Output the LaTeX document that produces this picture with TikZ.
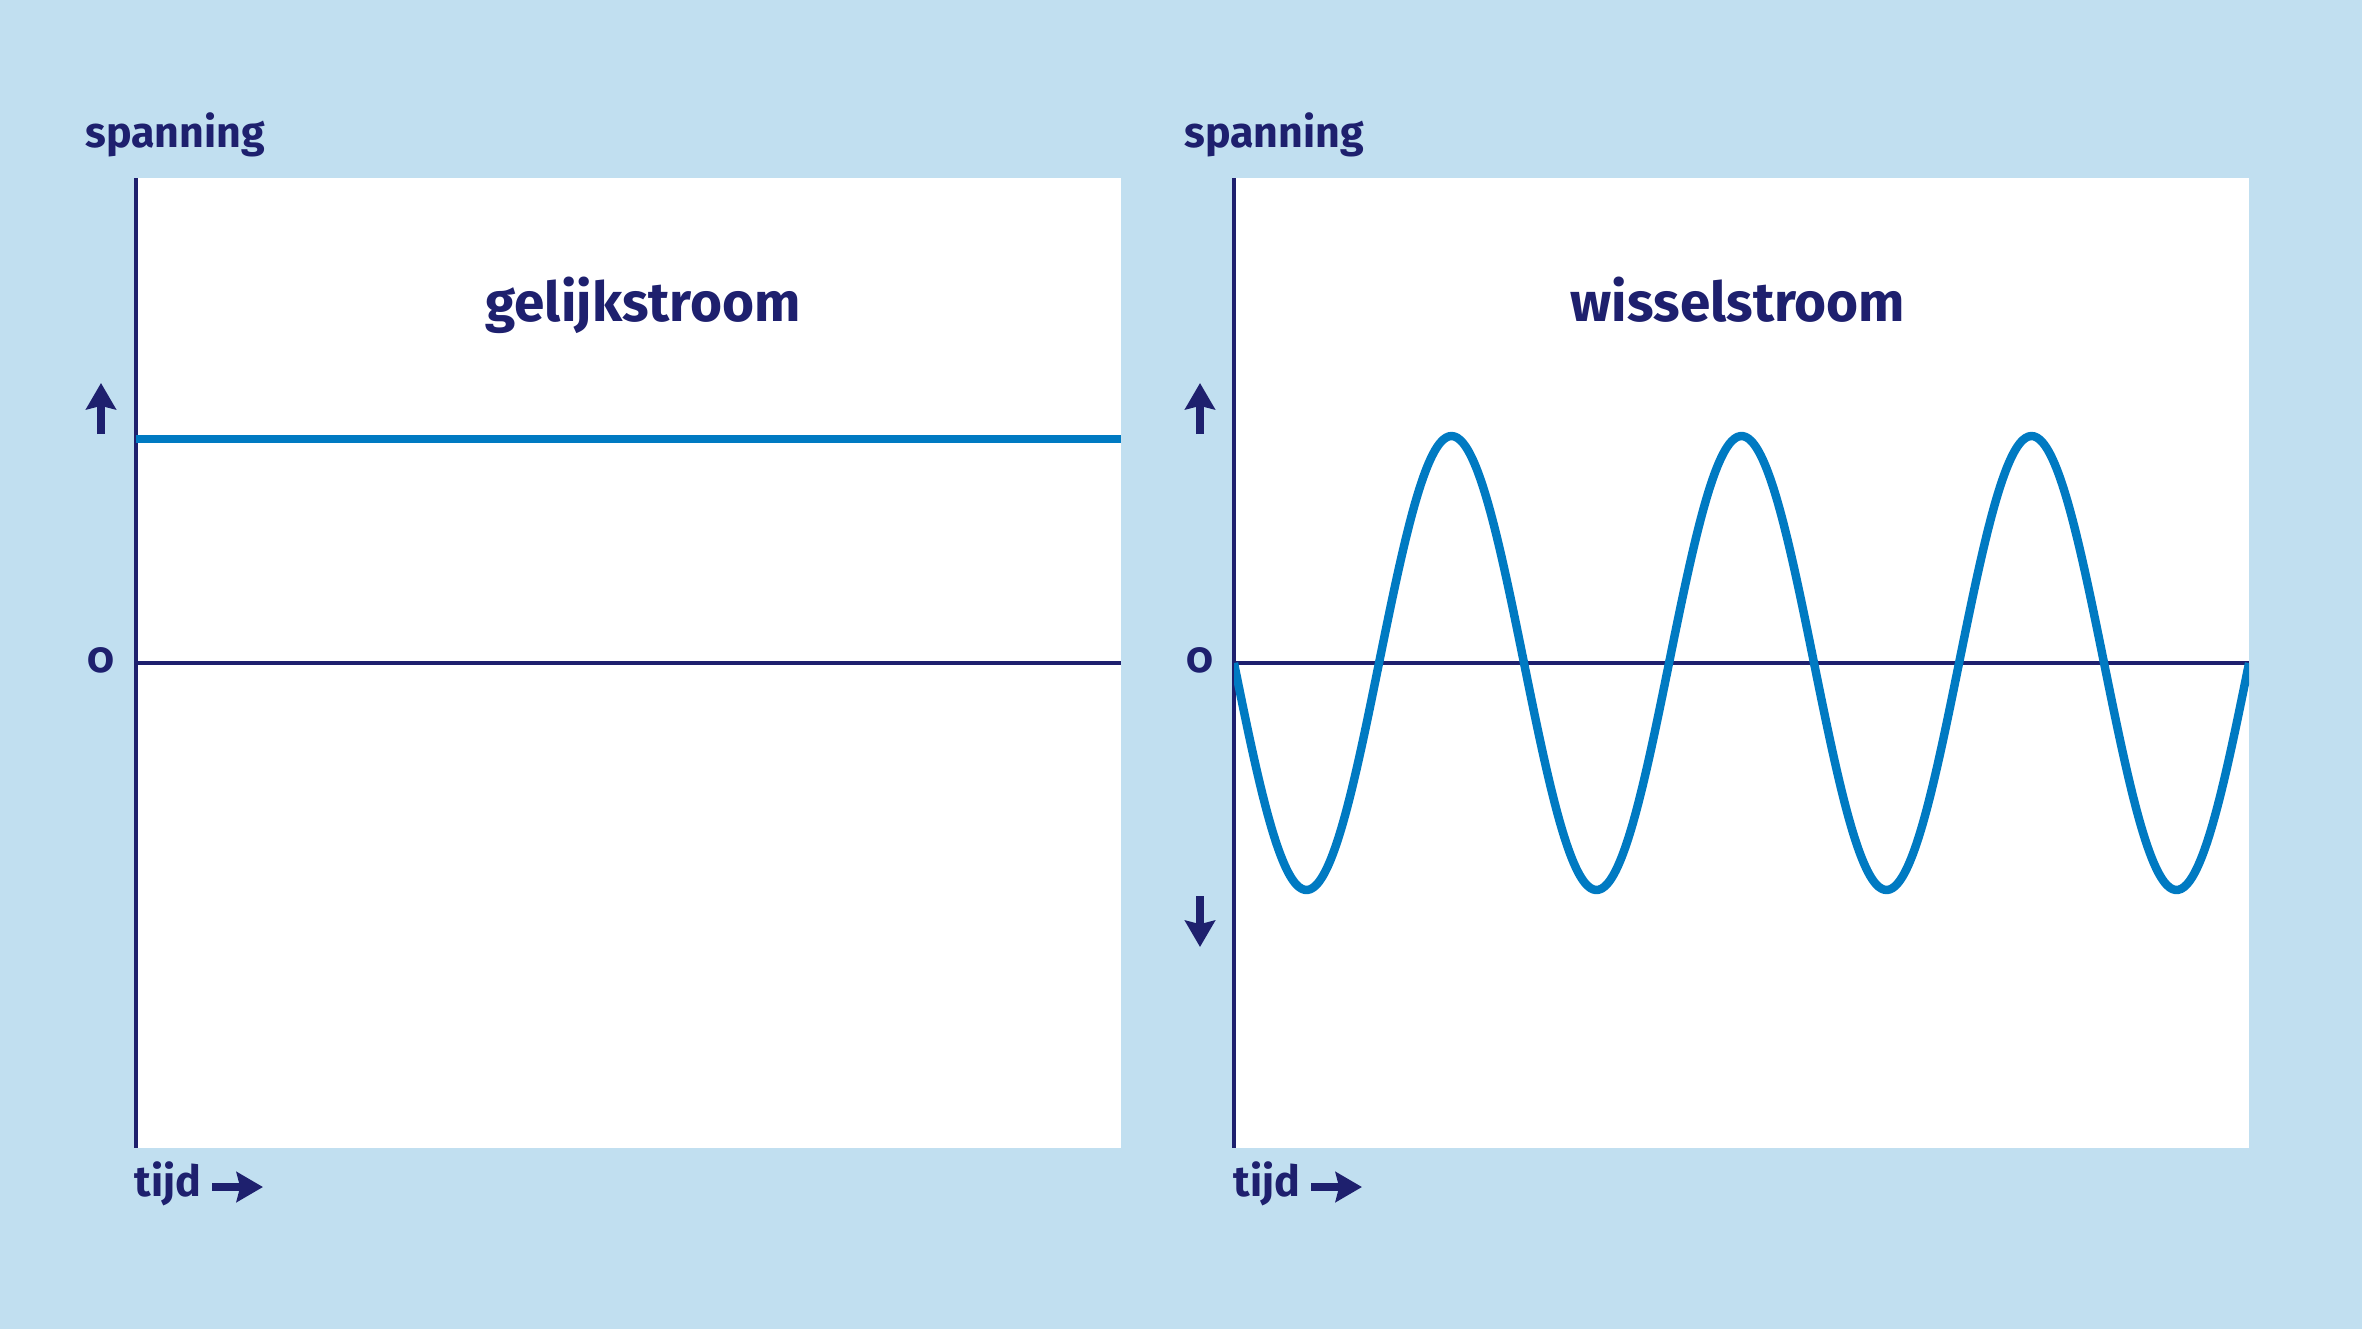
\documentclass[tikz,border=0pt]{standalone}
\usepackage{fontspec}
\setmainfont{Fira Sans}[Numbers=OldStyle]
\usepackage{tikz}
\usetikzlibrary{arrows.meta, positioning}
\definecolor{bgblue}{RGB}{193, 223, 240}
\definecolor{navy}{RGB}{30, 32, 110}
\definecolor{wave}{RGB}{0, 122, 194}

\begin{document}
\begin{tikzpicture}[x=0.01cm, y=-0.01cm,
  panel/.style={fill=white, draw=none},
  axis/.style={navy, line width=1.1pt},
  signal/.style={wave, line width=2.4pt, line join=round},
  lbl/.style={font=\fontsize{12.2}{14}\selectfont\bfseries, text=navy, inner sep=0pt, anchor=base},
  title/.style={font=\fontsize{15.6}{18}\selectfont\bfseries, text=navy, inner sep=0pt, anchor=base},
  glyph/.style={-{Stealth[length=7.5pt, width=8.5pt, inset=1pt]}, navy, line width=2.5pt}
]
  % background and margins
  \fill[bgblue] (0, 0) rectangle (2362, 1329);
  \useasboundingbox (0, 0) rectangle (2362, 1329);

  % gelijkstroom
  \fill[panel] (136, 178) rectangle (1121, 1148);
  \coordinate (dctop) at (136, 178);
  \coordinate (dcbot) at (136, 1148);
  \coordinate (dczero) at (136, 663);
  \coordinate (dcend) at (1121, 663);
  \draw[axis] (dctop) -- (dcbot);
  \draw[axis] (dczero) -- (dcend);
  \draw[signal] (136, 439) -- (1121, 439);
  \node[lbl] (spanl) at (175, 147) {spanning};
  \node[title] (dc) at (643, 321) {gelijkstroom};
  \node[lbl] (zerol) at (101, 672) {0};
  \node[lbl, anchor=base west] (tijdl) at (134, 1196) {tijd};
  \coordinate (upl0) at (101, 434);
  \coordinate (upl1) at (101, 383);
  \draw[glyph] (upl0) -- (upl1);
  \coordinate (tl0) at (212, 1187);
  \coordinate (tl1) at (263, 1187);
  \draw[glyph] (tl0) -- (tl1);

  % wisselstroom
  \fill[panel] (1234, 178) rectangle (2249, 1148);
  \coordinate (actop) at (1234, 178);
  \coordinate (acbot) at (1234, 1148);
  \coordinate (aczero) at (1234, 663);
  \coordinate (acend) at (2249, 663);
  \draw[axis] (actop) -- (acbot);
  \draw[axis] (aczero) -- (acend);
  \begin{scope}
    \clip (1234, 178) rectangle (2249, 1148);
    \draw[signal] plot[domain=0:1260, samples=360, smooth]
      ({1234 + \x*0.8056}, {663 + 227*sin(\x)});
  \end{scope}
  \node[lbl] (spanr) at (1274, 147) {spanning};
  \node[title] (ac) at (1738, 321) {wisselstroom};
  \node[lbl] (zeror) at (1200, 672) {0};
  \node[lbl, anchor=base west] (tijdr) at (1233, 1196) {tijd};
  \coordinate (upr0) at (1200, 434);
  \coordinate (upr1) at (1200, 383);
  \draw[glyph] (upr0) -- (upr1);
  \coordinate (dnr0) at (1200, 896);
  \coordinate (dnr1) at (1200, 947);
  \draw[glyph] (dnr0) -- (dnr1);
  \coordinate (tr0) at (1311, 1187);
  \coordinate (tr1) at (1362, 1187);
  \draw[glyph] (tr0) -- (tr1);
\end{tikzpicture}
\end{document}
